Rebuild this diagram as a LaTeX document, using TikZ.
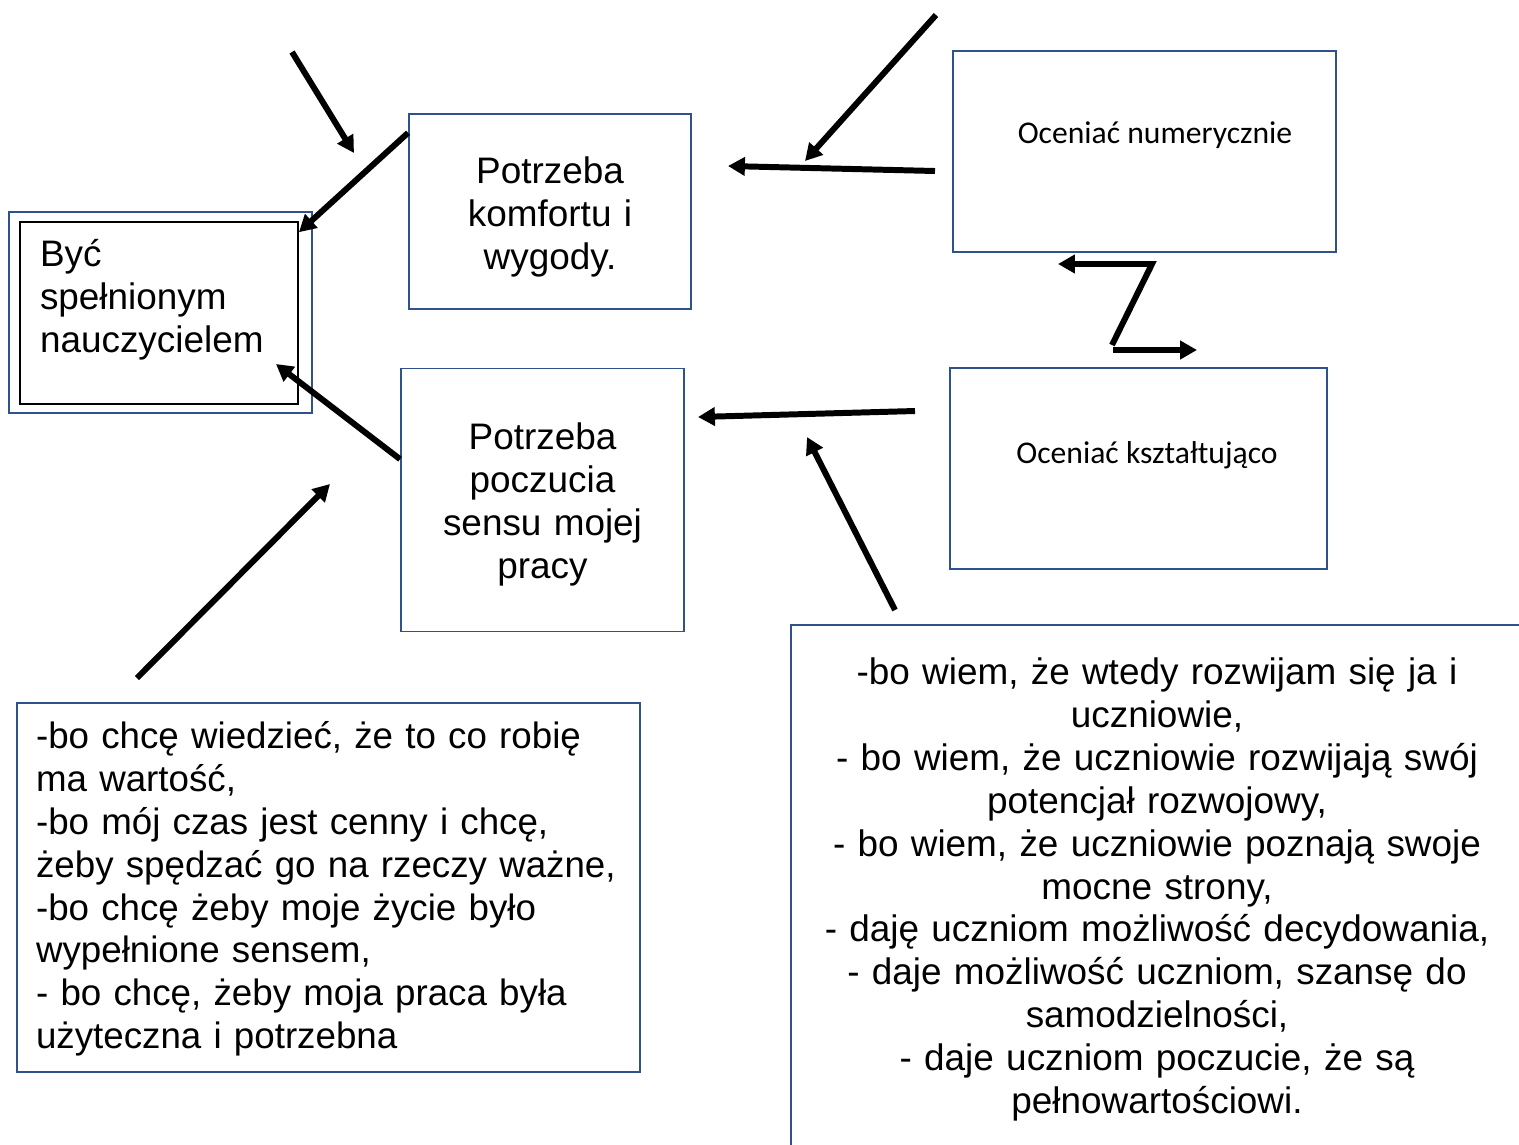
\documentclass[tikz,border=0pt]{standalone}
\usepackage{fontspec}
\setmainfont{Liberation Sans}
\newfontfamily\calibri{Carlito}
\usetikzlibrary{arrows.meta}
\definecolor{boxblue}{HTML}{2F528F}
\begin{document}
\begin{tikzpicture}[x=0.02cm, y=-0.02cm,
    box/.style = {draw=boxblue, line width=1.1pt, inner sep=0pt, font=\fontsize{21}{24.4}\selectfont},
    need/.style = {box, align=center, text width=5cm},
    way/.style = {box, font=\calibri\fontsize{18}{22}\selectfont},
    arr/.style = {line width=3.4pt, -{Triangle[length=9.6pt, width=10.2pt]}}]
    \useasboundingbox (0,0) rectangle (1519,1144);
    \clip (0,0) rectangle (1519,1144);
    % boxes
    \node[box, minimum width=6.06cm, minimum height=4.02cm] (goalframe) at (160.5,312.5) {};
    \node[box, draw=black, text width=4.76cm, align=left, inner xsep=0.4cm, text height=25.2pt, text depth=77.9pt] (goal) at (159,313) {Być\\ spełnionym\\ nauczycielem};
    \node[need, minimum width=5.64cm, text height=39.3pt, text depth=71.3pt] (comfort) at (550,211.5) {Potrzeba\\ komfortu i\\ wygody.};
    \node[need, minimum width=5.66cm, text height=46.1pt, text depth=103.6pt] (sense) at (542.5,500) {Potrzeba\\ poczucia\\ sensu mojej\\ pracy};
    \node[way, minimum width=7.66cm, text height=52.3pt, text depth=61.6pt] (numeric) at (1144.5,151.5) {\hspace*{0.42cm}Oceniać numerycznie};
    \node[way, minimum width=7.54cm, text height=54pt, text depth=59.9pt] (formative) at (1138.5,468.5) {\hspace*{0.34cm}Oceniać kształtująco};
    \node[box, font=\fontsize{20.9}{24.4}\selectfont, text width=11.7cm, align=left, inner xsep=0.38cm, text height=26.1pt, text depth=184.2pt] (reasons) at (328.5,887.5) {-bo chcę wiedzieć, że to co robię\\ ma wartość,\\ -bo mój czas jest cenny i chcę,\\ żeby spędzać go na rzeczy ważne,\\ -bo chcę żeby moje życie było\\ wypełnione sensem,\\ - bo chcę, żeby moja praca była\\ użyteczna i potrzebna};
    \node[box, text width=14.2cm, align=center, minimum width=14.64cm, minimum height=10.58cm] (benefits) at (1157,889.5) {-bo wiem, że wtedy rozwijam się ja i\\ uczniowie,\\ - bo wiem, że uczniowie rozwijają swój\\ potencjał rozwojowy,\\ - bo wiem, że uczniowie poznają swoje\\ mocne strony,\\ - daję uczniom możliwość decydowania,\\ - daje możliwość uczniom, szansę do\\ samodzielności,\\ - daje uczniom poczucie, że są\\ pełnowartościowi.};
    % free arrow ends
    \coordinate (a1) at (292,52);   \coordinate (b1) at (354,153);
    \coordinate (a3) at (936,15);   \coordinate (b3) at (805,161);
    \coordinate (a4) at (935,171);  \coordinate (b4) at (728,166);
    \coordinate (a6) at (915,411);  \coordinate (b6) at (698,417);
    \coordinate (a7) at (895,610);  \coordinate (b7) at (807,437);
    \coordinate (a9) at (137,678);  \coordinate (b9) at (330,484);
    \coordinate (b8) at (276,364);
    \coordinate (z1) at (1058,264); \coordinate (z2) at (1152,264);
    \coordinate (z3) at (1112,345); \coordinate (z4) at (1113,350);
    \coordinate (z5) at (1197,350);
    % arrows
    \draw[arr] (a1) -- (b1);
    \draw[arr] (comfort.151) -- (goal.30);
    \draw[arr] (a3) -- (b3);
    \draw[arr] (a4) -- (b4);
    \draw[arr] (z3) -- (z2) -- (z1);
    \draw[arr] (z4) -- (z5);
    \draw[arr] (a6) -- (b6);
    \draw[arr] (a7) -- (b7);
    \draw[arr] (sense.164) -- (b8);
    \draw[arr] (a9) -- (b9);
\end{tikzpicture}
\end{document}
